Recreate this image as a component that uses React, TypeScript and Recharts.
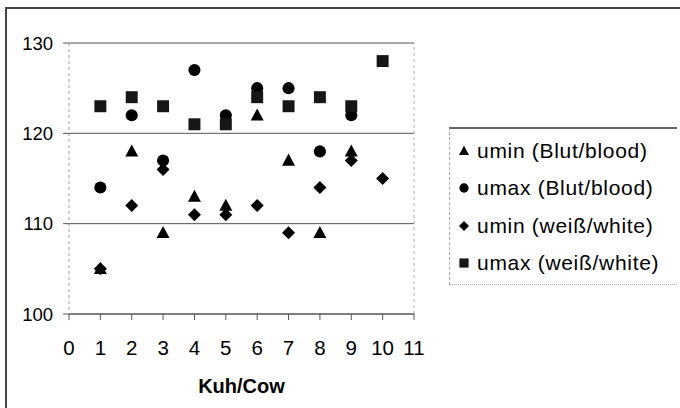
import {
  CartesianGrid,
  ReferenceLine,
  Scatter,
  ScatterChart,
  XAxis,
  YAxis,
} from "recharts";

const cows = [1, 2, 3, 4, 5, 6, 7, 8, 9, 10];
const uminBlood = [105, 118, 109, 113, 112, 122, 117, 109, 118, null];
const umaxBlood = [114, 122, 117, 127, 122, 125, 125, 118, 122, null];
const uminWhite = [105, 112, 116, 111, 111, 112, 109, 114, 117, 115];
const umaxWhite = [123, 124, 123, 121, 121, 124, 123, 124, 123, 128];

const xTicks = [0, 1, 2, 3, 4, 5, 6, 7, 8, 9, 10, 11];
const yTicks = [100, 110, 120, 130];

const FONT = '"Liberation Sans", Arial, sans-serif';

type Kind = "triangle" | "circle" | "diamond" | "square";

const series: { name: string; values: (number | null)[]; kind: Kind }[] = [
  { name: "umin (Blut/blood)", values: uminBlood, kind: "triangle" },
  { name: "umax (Blut/blood)", values: umaxBlood, kind: "circle" },
  { name: "umin (weiß/white)", values: uminWhite, kind: "diamond" },
  { name: "umax (weiß/white)", values: umaxWhite, kind: "square" },
];

const toPoints = (values: (number | null)[]) =>
  cows
    .map((cow, i) => ({ x: cow, y: values[i] }))
    .filter((p) => p.y !== null);

const Marker = ({ cx, cy, kind, r = 6.5 }: { cx: number; cy: number; kind: Kind; r?: number }) => {
  const fill = kind === "square" ? "#161616" : "#000";
  if (kind === "triangle")
    return (
      <polygon
        points={`${cx},${cy - r * 1.05} ${cx + r},${cy + r * 0.8} ${cx - r},${cy + r * 0.8}`}
        fill={fill}
      />
    );
  if (kind === "circle") return <circle cx={cx} cy={cy} r={r * 0.93} fill={fill} />;
  if (kind === "diamond")
    return (
      <polygon
        points={`${cx},${cy - r} ${cx + r},${cy} ${cx},${cy + r} ${cx - r},${cy}`}
        fill={fill}
      />
    );
  return <rect x={cx - r * 0.92} y={cy - r * 0.92} width={r * 1.84} height={r * 1.84} fill={fill} />;
};

// legend drawn as plain html next to the plot, like the Excel box
const LegendBox = () => (
  <div
    style={{
      position: "absolute",
      left: 449,
      top: 127,
      width: 227,
      height: 155,
      borderTop: "2px solid #666",
      borderLeft: "1px dashed #aaa",
      borderBottom: "1px dotted #aaa",
      fontFamily: FONT,
    }}
  >
    {series.map((s, i) => (
      <div
        key={s.name}
        style={{
          position: "absolute",
          left: 8,
          top: 22 + i * 37.4 - 13,
          height: 26,
          display: "flex",
          alignItems: "center",
          whiteSpace: "nowrap",
        }}
      >
        <svg width={12} height={12} style={{ marginRight: 7 }}>
          <Marker cx={6} cy={6} kind={s.kind} r={5} />
        </svg>
        <span style={{ fontSize: 21, letterSpacing: 0.7, color: "#000" }}>{s.name}</span>
      </div>
    ))}
  </div>
);

export default function App() {
  return (
    <div
      style={{
        position: "absolute",
        left: 0,
        top: 0,
        width: 680,
        height: 408,
        overflow: "hidden",
        background: "#fff",
      }}
    >
      <div
        style={{
          position: "absolute",
          left: 5,
          top: 7,
          width: 675,
          height: 401,
          borderLeft: "2px solid #444",
          borderTop: "2px solid #444",
        }}
      />
      <ScatterChart
        width={680}
        height={408}
        margin={{ top: 43, right: 266, bottom: 14, left: 9 }}
        style={{ position: "absolute", left: 0, top: 0, fontFamily: FONT }}
      >
        <CartesianGrid horizontal vertical={false} stroke="#555" horizontalValues={yTicks} />
        <ReferenceLine x={11} stroke="#aaa" strokeDasharray="3 3" />
        <XAxis
          type="number"
          dataKey="x"
          domain={[0, 11]}
          ticks={xTicks}
          interval={0}
          tickSize={6}
          tickMargin={20}
          height={80}
          stroke="#555"
          tick={{ fill: "#000", fontSize: 20.5, fontFamily: FONT }}
          label={{
            value: "Kuh/Cow",
            position: "insideBottom",
            offset: 1,
            style: { fontWeight: "bold", fontSize: 20, fill: "#000", fontFamily: FONT },
          }}
        />
        <YAxis
          type="number"
          dataKey="y"
          domain={[100, 130]}
          ticks={yTicks}
          interval={0}
          width={60}
          tickSize={6}
          tickMargin={10}
          axisLine={{ stroke: "#999", strokeDasharray: "3 3" }}
          tickLine={{ stroke: "#555" }}
          tick={{ fill: "#000", fontSize: 18.5, fontFamily: FONT }}
        />
        {series.map((s) => (
          <Scatter
            key={s.name}
            name={s.name}
            data={toPoints(s.values)}
            isAnimationActive={false}
            shape={(p: any) => <Marker cx={p.cx} cy={p.cy} kind={s.kind} />}
          />
        ))}
      </ScatterChart>
      <LegendBox />
    </div>
  );
}
